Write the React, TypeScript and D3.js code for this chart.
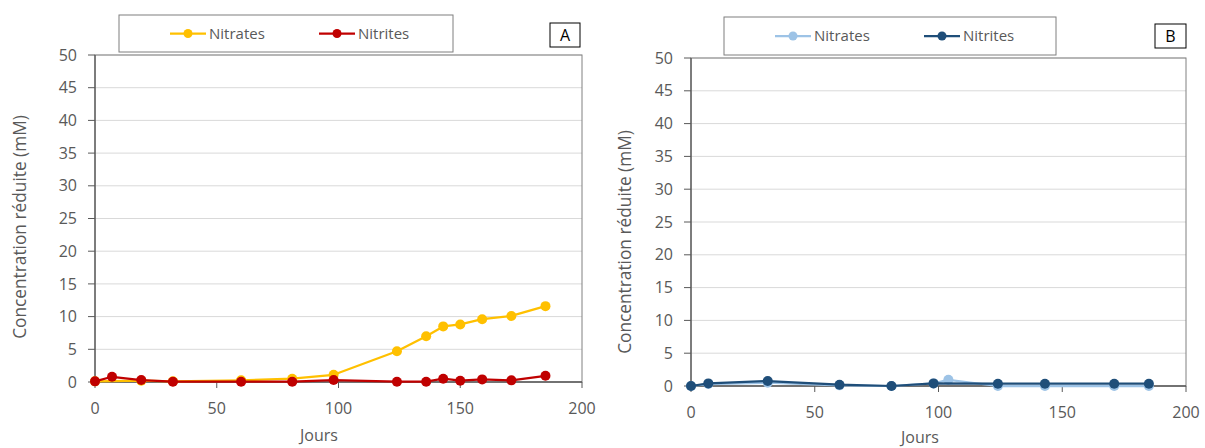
import React from "react";
import * as d3 from "d3";

// ---- Data ----
const daysA_nitrates = [0, 19, 32, 60, 81, 98, 124, 136, 143, 150, 159, 171, 185];
const valsA_nitrates = [0.1, 0.2, 0.1, 0.25, 0.5, 1.1, 4.7, 7.0, 8.5, 8.8, 9.6, 10.1, 11.6];
const daysA_nitrites = [0, 7, 19, 32, 60, 81, 98, 124, 136, 143, 150, 159, 171, 185];
const valsA_nitrites = [0.1, 0.8, 0.3, 0.05, 0.05, 0.05, 0.3, 0.05, 0.05, 0.5, 0.2, 0.4, 0.25, 0.95];

const daysB_nitrates = [0, 7, 31, 60, 81, 98, 104, 124, 143, 171, 185];
const valsB_nitrates = [0, 0.3, 0.5, 0.1, 0.0, 0.4, 0.95, 0.0, 0.0, 0.0, 0.0];
const daysB_nitrites = [0, 7, 31, 60, 81, 98, 124, 143, 171, 185];
const valsB_nitrites = [0, 0.4, 0.75, 0.2, 0.0, 0.4, 0.35, 0.35, 0.35, 0.35];

const yTicks = [0, 5, 10, 15, 20, 25, 30, 35, 40, 45, 50];
const xTicks = [0, 50, 100, 150, 200];
const seriesNames = ["Nitrates", "Nitrites"];
const yTitle = "Concentration réduite (mM)";
const xTitle = "Jours";

type Series = { name: string; days: number[]; vals: number[]; color: string };

type Layout = {
  left: number; right: number; top: number; bottom: number;
  legend: { x: number; y: number; w: number; h: number };
  tag: { x: number; y: number; w: number; h: number; text: string };
  yTitleX: number; yTitleY: number; xTitleY: number; xTitleX: number;
};

const FONT = "'Open Sans', 'Noto Sans', sans-serif";
const TXT = "#595959";

function Panel({ series, L }: { series: Series[]; L: Layout }) {
  const x = d3.scaleLinear().domain([0, 200]).range([L.left, L.right]);
  const y = d3.scaleLinear().domain([0, 50]).range([L.bottom, L.top]);
  const line = d3.line<[number, number]>().x((d) => x(d[0])).y((d) => y(d[1]));
  const legendItemX = [L.legend.x + 51, L.legend.x + 200];
  const ly = L.legend.y + L.legend.h / 2;
  return (
    <g>
      {/* gridlines */}
      {yTicks.filter((t) => t > 0).map((t) => (
        <line key={"g" + t} x1={L.left} x2={L.right} y1={y(t)} y2={y(t)} stroke="#d9d9d9" strokeWidth={1} />
      ))}
      {/* plot border */}
      <rect x={L.left} y={L.top} width={L.right - L.left} height={L.bottom - L.top} fill="none" stroke="#808080" strokeWidth={1} />
      {/* y axis */}
      <line x1={L.left} x2={L.left} y1={L.top} y2={L.bottom} stroke="#595959" strokeWidth={1.3} />
      {yTicks.map((t) => (
        <g key={"y" + t}>
          <line x1={L.left - 7} x2={L.left} y1={y(t)} y2={y(t)} stroke="#595959" strokeWidth={1} />
          <text x={L.left - 18} y={y(t)} dy="0.35em" textAnchor="end" fontFamily={FONT} fontSize={16} fill={TXT}>{t}</text>
        </g>
      ))}
      {/* x axis */}
      <line x1={L.left} x2={L.right} y1={L.bottom} y2={L.bottom} stroke="#595959" strokeWidth={1.3} />
      {xTicks.map((t) => (
        <g key={"x" + t}>
          <line x1={x(t)} x2={x(t)} y1={L.bottom} y2={L.bottom + 6} stroke="#595959" strokeWidth={1} />
          <text x={x(t)} y={L.bottom + 32} textAnchor="middle" fontFamily={FONT} fontSize={16} fill={TXT}>{t}</text>
        </g>
      ))}
      <text x={L.xTitleX} y={L.xTitleY} textAnchor="middle" fontFamily={FONT} fontSize={16} fill={TXT}>{xTitle}</text>
      <text transform={`translate(${L.yTitleX},${L.yTitleY}) rotate(-90)`} textAnchor="middle" fontFamily={FONT} fontSize={17.3} fill={TXT}>{yTitle}</text>
      {/* series */}
      {series.map((s) => {
        const pts = s.days.map((d, i) => [d, s.vals[i]] as [number, number]);
        return (
          <g key={s.name}>
            <path d={line(pts) || ""} fill="none" stroke={s.color} strokeWidth={2.25} strokeLinejoin="round" />
            {pts.map((p, i) => (
              <circle key={i} cx={x(p[0])} cy={y(p[1])} r={5} fill={s.color} />
            ))}
          </g>
        );
      })}
      {/* legend */}
      <rect x={L.legend.x} y={L.legend.y} width={L.legend.w} height={L.legend.h} fill="white" stroke="#7f7f7f" strokeWidth={1} />
      {series.map((s, i) => (
        <g key={"l" + s.name}>
          <line x1={legendItemX[i]} x2={legendItemX[i] + 36} y1={ly} y2={ly} stroke={s.color} strokeWidth={2.25} />
          <circle cx={legendItemX[i] + 18} cy={ly} r={4.5} fill={s.color} />
          <text x={legendItemX[i] + 39} y={ly} dy="0.35em" fontFamily={FONT} fontSize={15} fill={TXT}>{s.name}</text>
        </g>
      ))}
      {/* tag */}
      <rect x={L.tag.x} y={L.tag.y} width={L.tag.w} height={L.tag.h} fill="white" stroke="#000" strokeWidth={1} />
      <text x={L.tag.x + L.tag.w / 2} y={L.tag.y + L.tag.h / 2} dy="0.35em" textAnchor="middle" fontFamily={FONT} fontSize={16} fill="#000">{L.tag.text}</text>
    </g>
  );
}

export default function App() {
  const seriesA: Series[] = [
    { name: seriesNames[0], days: daysA_nitrates, vals: valsA_nitrates, color: "#FFC000" },
    { name: seriesNames[1], days: daysA_nitrites, vals: valsA_nitrites, color: "#C00000" },
  ];
  const seriesB: Series[] = [
    { name: seriesNames[0], days: daysB_nitrates, vals: valsB_nitrates, color: "#9DC3E6" },
    { name: seriesNames[1], days: daysB_nitrites, vals: valsB_nitrites, color: "#1F4E79" },
  ];
  const LA: Layout = {
    left: 95, right: 582, top: 55, bottom: 382,
    legend: { x: 119, y: 15, w: 334, h: 37 },
    tag: { x: 550, y: 23, w: 30, h: 24, text: "A" },
    yTitleX: 26, yTitleY: 227, xTitleY: 441, xTitleX: 319,
  };
  const LB: Layout = {
    left: 691, right: 1186, top: 58, bottom: 386,
    legend: { x: 724, y: 17, w: 332, h: 38 },
    tag: { x: 1155, y: 24, w: 31, h: 24, text: "B" },
    yTitleX: 631, yTitleY: 242, xTitleY: 443, xTitleX: 920,
  };
  return (
    <svg width={1205} height={448} style={{ position: "absolute", left: 0, top: 0, background: "white" }}>
      <rect x={0} y={0} width={1205} height={448} fill="white" />
      <Panel series={seriesA} L={LA} />
      <Panel series={seriesB} L={LB} />
    </svg>
  );
}
